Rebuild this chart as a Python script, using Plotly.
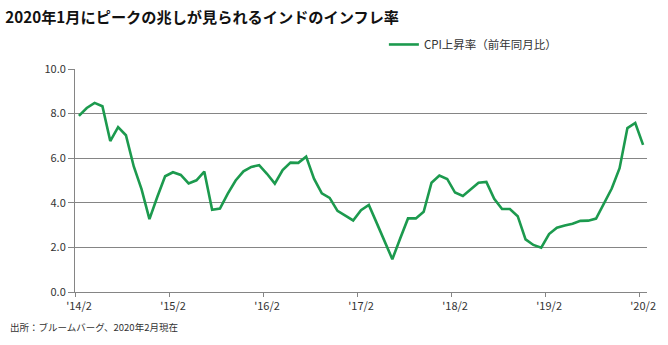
import plotly.graph_objects as go

# Monthly CPI YoY (%) from 2014/2 to 2020/2
months = [f"{y}/{m}" for y in range(2014, 2021) for m in range(1, 13)]
months = months[months.index("2014/2"):months.index("2020/2") + 1]

cpi = [7.90, 8.25, 8.48, 8.33, 6.77, 7.39, 7.03, 5.63, 4.60, 3.27, 4.26, 5.19,
       5.37, 5.25, 4.87, 5.01, 5.40, 3.69, 3.74, 4.41, 5.00, 5.41, 5.61, 5.69,
       5.30, 4.86, 5.47, 5.80, 5.79, 6.07, 5.08, 4.42, 4.22, 3.64, 3.43, 3.21,
       3.67, 3.90, 3.10, 2.30, 1.47, 2.40, 3.30, 3.30, 3.60, 4.90, 5.22, 5.07,
       4.46, 4.31, 4.60, 4.90, 4.94, 4.18, 3.72, 3.72, 3.40, 2.36, 2.11, 1.99,
       2.60, 2.88, 2.98, 3.06, 3.19, 3.20, 3.29, 3.97, 4.64, 5.55, 7.35, 7.58, 6.60]

tick_labels = ["'14/2", "'15/2", "'16/2", "'17/2", "'18/2", "'19/2", "'20/2"]
series_name = "CPI上昇率（前年同月比）"
title_text = "2020年1月にピークの兆しが見られるインドのインフレ率"
source_text = "出所：ブルームバーグ、2020年2月現在"

x_idx = list(range(len(cpi)))
tick_pos = [months.index(f"20{l[1:3]}/2") - 0.5 for l in tick_labels]

FONT = "Noto Sans CJK JP"
GREEN = "#1c9a4e"
GRID = "#858585"

fig = go.Figure()
fig.add_trace(go.Scatter(
    x=x_idx, y=cpi, mode="lines", name=series_name,
    line=dict(color=GREEN, width=2.6),
    customdata=months, hovertemplate="%{customdata}: %{y:.2f}<extra></extra>",
))

fig.update_layout(
    width=668, height=345,
    margin=dict(l=75, r=21, t=69, b=53),
    paper_bgcolor="white", plot_bgcolor="white",
    font=dict(family=FONT, size=11, color="#333333"),
    title=dict(text=title_text, xref="container", yref="container",
               x=0.008, xanchor="left", y=0.948, yanchor="middle",
               font=dict(family=FONT, size=15.2, color="#111111", weight="bold")),
    showlegend=True,
    legend=dict(x=0.54, y=1.175, xanchor="left", yanchor="top",
                orientation="h", bgcolor="rgba(0,0,0,0)",
                font=dict(family=FONT, size=11.5, color="#333333")),
    xaxis=dict(
        range=[-0.5, len(cpi) - 0.5],
        tickmode="array", tickvals=tick_pos, ticktext=tick_labels,
        ticklabelshift=4,
        showgrid=False, zeroline=False,
        showline=True, linecolor=GRID, linewidth=1,
        ticks="outside", ticklen=4, tickcolor=GRID,
        tickfont=dict(family=FONT, size=11, color="#333333"),
    ),
    yaxis=dict(
        range=[0, 10], tickvals=[0, 2, 4, 6, 8, 10],
        tickformat=".1f",
        showgrid=True, gridcolor=GRID, gridwidth=1,
        zeroline=False,
        showline=True, linecolor=GRID, linewidth=1,
        ticks="outside", ticklen=6, tickcolor=GRID,
        tickfont=dict(family=FONT, size=11, color="#333333"),
    ),
    annotations=[dict(
        text=source_text, xref="paper", yref="paper",
        x=-0.118, y=-0.155, xanchor="left", yanchor="middle",
        showarrow=False, font=dict(family=FONT, size=9.5, color="#333333"),
    )],
)

fig.write_html("out.html")
